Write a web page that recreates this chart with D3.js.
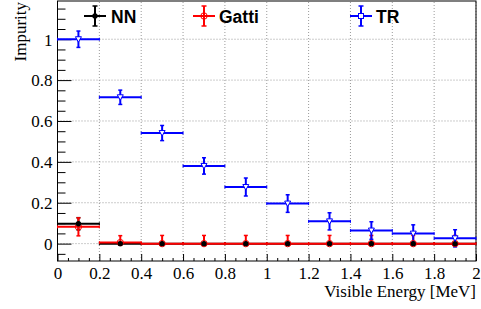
<!DOCTYPE html>
<head>
<meta charset="utf-8">
<style>
body { margin: 0; background: #fff; }
svg text.tick-label, svg text.axis-title { font-family: "Liberation Serif", serif; fill: #000; }
svg .grid { stroke: #9a9a9a; stroke-width: 1px; stroke-dasharray: 1,2; }
svg .frame { fill: none; stroke: #000; stroke-width: 1px; }
svg .legend text { font-family: "Liberation Sans", Arial, sans-serif; font-weight: bold; font-size: 17.5px; }
</style>
</head>
<body>
<script src="https://cdnjs.cloudflare.com/ajax/libs/d3/7.8.5/d3.min.js"></script>
<script>
// bin centres (width 0.2 MeV)
var energy = [0.1, 0.3, 0.5, 0.7, 0.9, 1.1, 1.3, 1.5, 1.7, 1.9];
var binWidth = 0.2;

// NN (black)
var nnVal   = [0.097, 0, 0, 0, 0, 0, 0, 0, 0, 0];
var nnErrUp = [0.03, 0, 0, 0, 0, 0, 0, 0, 0, 0];
var nnErrLo = [0.03, 0, 0, 0, 0, 0, 0, 0, 0, 0];

// Gatti (red)
var gattiVal   = [0.082, 0.005, 0, 0, 0, 0, 0, 0, 0, 0];
var gattiErrUp = [0.044, 0.034, 0.04, 0.04, 0.04, 0.04, 0.04, 0.04, 0.04, 0.04];
var gattiErrLo = [0.044, 0, 0, 0, 0, 0, 0, 0, 0, 0];

// TR (blue)
var trVal = [1.0, 0.716, 0.541, 0.380, 0.277, 0.196, 0.109, 0.064, 0.049, 0.026];
var trErr = [0.04, 0.035, 0.037, 0.04, 0.044, 0.043, 0.042, 0.043, 0.043, 0.042];

var xTicks = [0, 0.2, 0.4, 0.6, 0.8, 1, 1.2, 1.4, 1.6, 1.8, 2];
var yTicks = [0, 0.2, 0.4, 0.6, 0.8, 1];
var seriesNames = ["NN", "Gatti", "TR"];

var W = 481, H = 309;
var x = d3.scaleLinear().domain([0, 2]).range([57.5, 476]);
var y = d3.scaleLinear().domain([-0.085, 1.187]).range([261, 1]);

var svg = d3.select("body").append("svg")
    .attr("width", W).attr("height", H);

// grid
svg.append("g").selectAll("line").data(xTicks.slice(1))
  .enter().append("line").classed("grid", true)
    .attr("x1", d => x(d)).attr("x2", d => x(d))
    .attr("y1", y.range()[0]).attr("y2", y.range()[1]);
svg.append("g").selectAll("line").data(yTicks)
  .enter().append("line").classed("grid", true)
    .attr("y1", d => y(d)).attr("y2", d => y(d))
    .attr("x1", x.range()[0]).attr("x2", x.range()[1]);

// frame
svg.append("rect").classed("frame", true)
    .attr("x", x.range()[0]).attr("y", y.range()[1])
    .attr("width", x.range()[1] - x.range()[0])
    .attr("height", y.range()[0] - y.range()[1]);

// minor ticks
var xMinor = d3.range(0, 2.001, 0.05).filter(v => Math.abs(v / 0.2 - Math.round(v / 0.2)) > 1e-6);
var yMinor = d3.range(-0.05, 1.19, 0.05).filter(v => Math.abs(v / 0.2 - Math.round(v / 0.2)) > 1e-6);

svg.append("g")
    .attr("transform", "translate(0," + y.range()[0] + ")")
    .call(d3.axisBottom(x).tickValues(xMinor).tickSize(-3).tickFormat("").tickSizeOuter(0))
    .call(g => g.select(".domain").remove());
svg.append("g")
    .attr("transform", "translate(" + x.range()[0] + ",0)")
    .call(d3.axisLeft(y).tickValues(yMinor).tickSize(-8).tickFormat("").tickSizeOuter(0))
    .call(g => g.select(".domain").remove());

// major ticks + labels
var xa = svg.append("g")
    .attr("transform", "translate(0," + y.range()[0] + ")")
    .call(d3.axisBottom(x).tickValues(xTicks).tickSize(-7).tickPadding(0)
      .tickFormat(d3.format("~g")).tickSizeOuter(0));
xa.select(".domain").remove();
xa.selectAll("text").classed("tick-label", true)
    .attr("y", 18).attr("dy", null)
    .style("font-size", "17px");

var ya = svg.append("g")
    .attr("transform", "translate(" + x.range()[0] + ",0)")
    .call(d3.axisLeft(y).tickValues(yTicks).tickSize(-14).tickPadding(5)
      .tickFormat(d3.format("~g")).tickSizeOuter(0));
ya.select(".domain").remove();
ya.selectAll("text").classed("tick-label", true)
    .attr("dy", "0.34em")
    .style("font-size", "17px");
svg.selectAll(".tick line").attr("stroke", "#000").attr("stroke-width", 1);

// axis titles
svg.append("text").classed("axis-title", true)
    .attr("x", x.range()[1]).attr("y", 297)
    .style("text-anchor", "end").style("font-size", "17px")
    .text("Visible Energy [MeV]");
svg.append("text").classed("axis-title", true)
    .attr("transform", "translate(26,2) rotate(-90)")
    .style("text-anchor", "end").style("font-size", "17px")
    .text("Impurity");

// series: error bars first, markers afterwards
function points(vals, up, lo) {
  return vals.map((v, i) => ({ e: energy[i], v: v, up: up[i], lo: lo[i] }));
}

function drawBars(pts, color) {
  var g = svg.append("g");
  var capW = 2;
  pts.forEach(function (p) {
    var cx = x(p.e), cy = y(p.v);
    g.append("line")
      .attr("x1", x(p.e - binWidth / 2)).attr("x2", x(p.e + binWidth / 2))
      .attr("y1", cy).attr("y2", cy)
      .attr("stroke", color).attr("stroke-width", 2);
    [p.e - binWidth / 2, p.e + binWidth / 2].forEach(function (ex) {
      g.append("line")
        .attr("x1", x(ex)).attr("x2", x(ex))
        .attr("y1", cy - 1.5).attr("y2", cy + 1.5)
        .attr("stroke", color).attr("stroke-width", 1);
    });
    var yTop = y(p.v + p.up), yBot = y(p.v - p.lo);
    if (yBot - yTop > 0.5) {
      g.append("line")
        .attr("x1", cx).attr("x2", cx).attr("y1", yTop).attr("y2", yBot)
        .attr("stroke", color).attr("stroke-width", 2);
    }
    [yTop, yBot].forEach(function (yy) {
      if (Math.abs(yy - cy) < 0.5) return;
      g.append("line")
        .attr("x1", cx - capW).attr("x2", cx + capW).attr("y1", yy).attr("y2", yy)
        .attr("stroke", color).attr("stroke-width", 1.5);
    });
  });
}

function drawMarkers(pts, marker) {
  var g = svg.append("g");
  pts.forEach(p => marker(g, x(p.e), y(p.v)));
}

function filledCircle(color) {
  return function (g, cx, cy) {
    g.append("circle").attr("cx", cx).attr("cy", cy).attr("r", 2.7).attr("fill", color);
  };
}
function openCircle(color) {
  return function (g, cx, cy) {
    g.append("circle").attr("cx", cx).attr("cy", cy).attr("r", 3.2)
      .attr("fill", "none").attr("stroke", color).attr("stroke-width", 1);
  };
}
function openTriangle(color) {
  return function (g, cx, cy) {
    g.append("path")
      .attr("d", "M" + (cx - 3) + "," + (cy - 2.5) + "L" + (cx + 3) + "," + (cy - 2.5) + "L" + cx + "," + (cy + 3) + "Z")
      .attr("fill", "#fff").attr("stroke", color).attr("stroke-width", 1);
  };
}

var nnPts = points(nnVal, nnErrUp, nnErrLo);
var gattiPts = points(gattiVal, gattiErrUp, gattiErrLo);
var trPts = points(trVal, trErr, trErr);

drawBars(nnPts, "#000");
drawBars(gattiPts, "#ff0000");
drawBars(trPts, "#0000ff");
drawMarkers(gattiPts, openCircle("#ff0000"));
drawMarkers(nnPts, filledCircle("#000"));
drawMarkers(trPts, openTriangle("#0000ff"));

// legend
var legendPos = [{ sx: 95, tx: 111 }, { sx: 204, tx: 219 }, { sx: 361, tx: 376 }];
var legendColors = ["#000", "#ff0000", "#0000ff"];
var legendMarkers = [filledCircle("#000"), openCircle("#ff0000"), function (g, cx, cy) {
  g.append("rect").attr("x", cx - 2.5).attr("y", cy - 2.5).attr("width", 5).attr("height", 5)
    .attr("fill", "#fff").attr("stroke", "#0000ff").attr("stroke-width", 1);
}];
var leg = svg.append("g").classed("legend", true);
seriesNames.forEach(function (name, i) {
  var p = legendPos[i], c = legendColors[i], cy = 16;
  var g = leg.append("g");
  g.append("line").attr("x1", p.sx - 11).attr("x2", p.sx + 11).attr("y1", cy).attr("y2", cy)
    .attr("stroke", c).attr("stroke-width", 2);
  g.append("line").attr("x1", p.sx).attr("x2", p.sx).attr("y1", cy - 10).attr("y2", cy + 10)
    .attr("stroke", c).attr("stroke-width", 2);
  [cy - 10, cy + 10].forEach(function (yy) {
    g.append("line").attr("x1", p.sx - 2.5).attr("x2", p.sx + 2.5).attr("y1", yy).attr("y2", yy)
      .attr("stroke", c).attr("stroke-width", 1.5);
  });
  legendMarkers[i](g, p.sx, cy);
  g.append("text").attr("x", p.tx).attr("y", 22.5).attr("fill", "#000").text(name);
});
</script>
</body>
</html>
